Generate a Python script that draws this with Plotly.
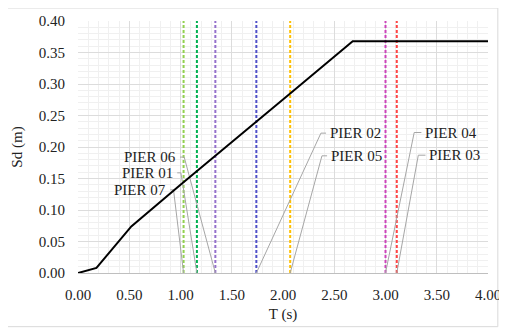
import plotly.graph_objects as go

# Spectrum curve (T, Sd)
curve_T = [0.0, 0.18, 0.52, 1.00, 2.07, 2.68, 4.00]
curve_Sd = [0.0, 0.008, 0.074, 0.140, 0.285, 0.368, 0.368]

# Pier periods
piers = ["PIER 07", "PIER 01", "PIER 06", "PIER 02", "PIER 05", "PIER 04", "PIER 03"]
pier_T = [1.03, 1.16, 1.34, 1.74, 2.07, 3.00, 3.11]
pier_colors = ["#92D050", "#00B050", "#9470CC", "#4F4FC8", "#FFC000", "#CC44BB", "#FF4444"]

# Label positions (leader line start: tick start T, tick end T, Sd) and side
label_tick_T0 = [0.90, 0.968, 0.995, 2.42, 2.43, 3.35, 3.39]
label_tick_T1 = [0.932, 1.004, 1.036, 2.37, 2.38, 3.28, 3.32]
label_Sd = [0.132, 0.159, 0.184, 0.222, 0.186, 0.223, 0.187]
label_side = ["left", "left", "left", "right", "right", "right", "right"]

x_ticks = [0.0, 0.5, 1.0, 1.5, 2.0, 2.5, 3.0, 3.5, 4.0]
y_ticks = [0.0, 0.05, 0.10, 0.15, 0.20, 0.25, 0.30, 0.35, 0.40]

FONT = "'Liberation Serif', 'Times New Roman', 'DejaVu Serif', serif"
FS = 15

fig = go.Figure()

# vertical dashed lines
for name, t, c in zip(piers, pier_T, pier_colors):
    fig.add_trace(go.Scatter(x=[t, t], y=[0, 0.40], mode="lines",
                             line=dict(color=c, width=2, dash="3px,2px"),
                             showlegend=False, hoverinfo="skip"))

# leader lines
for t, t0, t1, sd in zip(pier_T, label_tick_T0, label_tick_T1, label_Sd):
    fig.add_trace(go.Scatter(x=[t0, t1, t], y=[sd, sd, 0], mode="lines",
                             line=dict(color="#a6a6a6", width=1),
                             showlegend=False, hoverinfo="skip"))

# spectrum curve
fig.add_trace(go.Scatter(x=curve_T, y=curve_Sd, mode="lines",
                         line=dict(color="black", width=2),
                         showlegend=False))

# labels
for name, t0, sd, side in zip(piers, label_tick_T0, label_Sd, label_side):
    fig.add_annotation(x=t0, y=sd, text=name, showarrow=False,
                       xanchor="right" if side == "left" else "left",
                       yanchor="middle",
                       xshift=-2 if side == "left" else 2,
                       font=dict(family=FONT, size=FS, color="#222222"))

# chart-area border
fig.add_shape(type="rect", xref="paper", yref="paper",
              x0=-0.173, x1=1.024, y0=-0.213, y1=1.0515,
              line=dict(color="#d9d9d9", width=1), layer="below")

fig.update_layout(
    width=499, height=321,
    margin=dict(l=70, r=19, t=13, b=56),
    paper_bgcolor="white", plot_bgcolor="white",
    font=dict(family=FONT, size=FS, color="#222222"),
    xaxis=dict(range=[0, 4], tickvals=x_ticks,
               ticktext=[f"{v:.2f}" for v in x_ticks],
               showgrid=True, gridcolor="#dcdcdc", gridwidth=1,
               minor=dict(dtick=0.1, showgrid=True, gridcolor="#f0f0f0", gridwidth=1),
               showline=True, linecolor="#bfbfbf", linewidth=1,
               zeroline=False, ticks="", ticklabelstandoff=8, automargin=False,
               tickfont=dict(family=FONT, size=FS),
               title=dict(text="T (s)", standoff=6, font=dict(family=FONT, size=FS))),
    yaxis=dict(range=[0, 0.40], tickvals=y_ticks,
               ticktext=[f"{v:.2f}" for v in y_ticks],
               showgrid=True, gridcolor="#dcdcdc", gridwidth=1,
               minor=dict(dtick=0.01, showgrid=True, gridcolor="#f0f0f0", gridwidth=1),
               showline=False, zeroline=False, ticks="", ticklabelstandoff=12, automargin=False,
               tickfont=dict(family=FONT, size=FS),
               title=dict(text="Sd (m)", standoff=12, font=dict(family=FONT, size=FS))),
)

fig.write_html("out.html")
